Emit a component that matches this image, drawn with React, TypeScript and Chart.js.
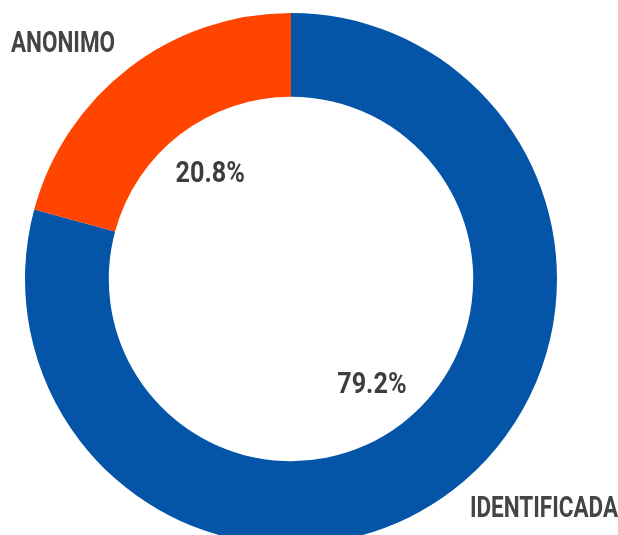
import React, { useEffect, useRef } from "react";
import { Chart, registerables } from "chart.js";

Chart.register(...registerables);

const categories = ["IDENTIFICADA", "ANONIMO"];
const values = [79.2, 20.8];
const colors = ["#0455A7", "#FF4500"];

const FONT = 'Roboto, "DejaVu Sans Condensed", sans-serif';

const labelPlugin = {
  id: "sliceLabels",
  afterDatasetsDraw(chart: any) {
    const ctx = chart.ctx;
    const meta = chart.getDatasetMeta(0);
    const total = values.reduce((a, b) => a + b, 0);
    ctx.save();
    meta.data.forEach((arc: any, i: number) => {
      const p = arc.getProps(["x", "y", "startAngle", "endAngle", "outerRadius"], true);
      const mid = (p.startAngle + p.endAngle) / 2;
      const cos = Math.cos(mid);
      const sin = Math.sin(mid);
      // percentage label
      const r1 = p.outerRadius * 0.5;
      const pct = ((values[i] / total) * 100).toFixed(1) + "%";
      ctx.fillStyle = "#3d3d3d";
      ctx.font = `bold 30px ${FONT}`;
      ctx.textAlign = "center";
      ctx.textBaseline = "middle";
      ctx.save();
      ctx.translate(p.x + cos * r1, p.y + sin * r1 + 1);
      ctx.scale(0.84, 1);
      ctx.fillText(pct, 0, 0);
      ctx.restore();
      // category label
      const r2 = p.outerRadius * 1.1;
      const lx = p.x + cos * r2;
      const ly = p.y + sin * r2;
      ctx.fillStyle = "#444444";
      ctx.textAlign = cos < 0 ? "right" : "left";
      ctx.save();
      ctx.translate(lx + (cos < 0 ? 2 : 1), ly - 2);
      ctx.scale(0.75, 1);
      ctx.fillText(categories[i], 0, 0);
      ctx.restore();
    });
    ctx.restore();
  },
};

export default function App() {
  const ref = useRef<HTMLCanvasElement>(null);
  useEffect(() => {
    if (!ref.current) return;
    const chart = new Chart(ref.current, {
      type: "doughnut",
      data: {
        labels: categories,
        datasets: [
          {
            data: values,
            backgroundColor: colors,
            borderWidth: 0,
          },
        ],
      },
      options: {
        responsive: false,
        animation: false,
        cutout: "68.5%",
        layout: { padding: { left: 25, right: 61, top: 13, bottom: 15 } },
        plugins: {
          legend: { display: false },
          tooltip: { enabled: false },
        },
      },
      plugins: [labelPlugin],
    });
    return () => chart.destroy();
  }, []);
  return (
    <div
      style={{
        position: "absolute",
        left: 0,
        top: 0,
        width: 618,
        height: 535,
        overflow: "hidden",
        background: "#ffffff",
      }}
    >
      <canvas ref={ref} width={618} height={560} style={{ display: "block" }} />
    </div>
  );
}
